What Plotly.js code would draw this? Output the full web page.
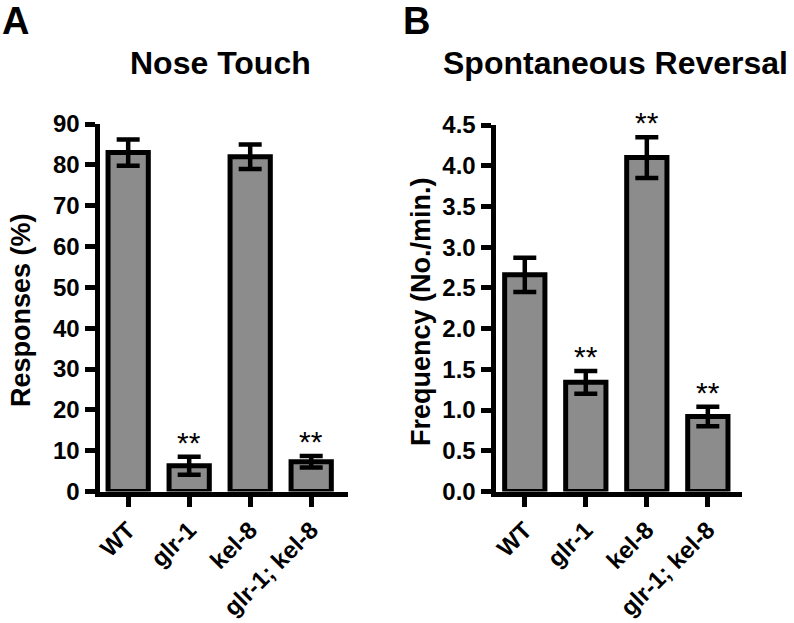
<!DOCTYPE html>
<html>
<head>
<meta charset="utf-8">
<script src="https://cdn.plot.ly/plotly-3.0.1.min.js"></script>
<style>html,body{margin:0;padding:0;background:#fff}#chart{width:794px;height:623px}</style>
</head>
<body>
<div id="chart"></div>
<script>
// ---- data ----
var categories = ["WT", "glr-1", "kel-8", "glr-1; kel-8"];
var noseTouch = [83, 6.3, 82, 7.3];
var noseTouchErr = [3.2, 2.2, 3.0, 1.4];
var noseStars = ["", "**", "", "**"];
var reversal = [2.66, 1.34, 4.1, 0.92];
var reversalErr = [0.21, 0.14, 0.25, 0.12];
var reversalStars = ["", "**", "**", "**"];
var yTicksA = [0, 10, 20, 30, 40, 50, 60, 70, 80, 90];
var yTicksB = [0, 0.5, 1, 1.5, 2, 2.5, 3, 3.5, 4, 4.5];

var W = 794, H = 623;
function fx(p){ return p / W; }
function fy(p){ return 1 - p / H; }
var FONT = "Arial, 'Liberation Sans', sans-serif";
var BAR = "#8c8c8c";

function barTrace(y, e, xa, ya){
  return {
    type: "bar", x: categories, y: y, xaxis: xa, yaxis: ya,
    width: 0.66,
    marker: {color: BAR, line: {color: "#000", width: 5}},
    error_y: {type: "data", array: e, visible: true, color: "#000", thickness: 4.5, width: 11.5},
    hoverinfo: "none", showlegend: false
  };
}

var data = [
  barTrace(noseTouch, noseTouchErr, "x", "y"),
  barTrace(reversal, reversalErr, "x2", "y2")
];

function xAxis(domain, range, anchor){
  return {
    domain: domain, range: range, anchor: anchor, type: "category",
    showline: true, linecolor: "#000", linewidth: 5,
    ticks: "outside", ticklen: 10, tickwidth: 5, tickcolor: "#000",
    tickangle: -45, showgrid: false, zeroline: false,
    tickfont: {family: FONT, size: 24, color: "#000", weight: "bold"},
    fixedrange: true
  };
}
function yAxis(domain, range, anchor, ticks, fmt){
  return {
    domain: domain, range: range, anchor: anchor,
    tickmode: "array", tickvals: ticks, tickformat: fmt,
    showline: true, linecolor: "#000", linewidth: 5,
    ticks: "outside", ticklen: 10, tickwidth: 5, tickcolor: "#000",
    showgrid: false, zeroline: false,
    tickfont: {family: FONT, size: 24, color: "#000", weight: "bold"},
    fixedrange: true
  };
}

var annotations = [];
function addStars(stars, vals, errs, xref, yref){
  for (var i = 0; i < categories.length; i++){
    if (!stars[i]) continue;
    annotations.push({
      xref: xref, yref: yref, x: categories[i], y: vals[i] + errs[i],
      text: stars[i], showarrow: false, yanchor: "bottom", yshift: -4,
      font: {family: FONT, size: 30, color: "#000"}
    });
  }
}
addStars(noseStars, noseTouch, noseTouchErr, "x", "y");
addStars(reversalStars, reversal, reversalErr, "x2", "y2");

function paperText(text, x, y, size, opts){
  var a = {xref: "paper", yref: "paper", x: fx(x), y: fy(y), text: text, showarrow: false,
    xanchor: "center", yanchor: "middle",
    font: {family: FONT, size: size, color: "#000", weight: "bold"}};
  for (var k in (opts || {})) a[k] = opts[k];
  return a;
}
annotations.push(paperText("A", 0, 21, 38, {xanchor: "left"}));
annotations.push(paperText("B", 401, 21, 38, {xanchor: "left"}));
annotations.push(paperText("Nose Touch", 220, 63, 32));
annotations.push(paperText("Spontaneous Reversal", 615, 63, 32));
annotations.push(paperText("Responses (%)", 21, 310, 27, {textangle: -90}));
annotations.push(paperText("Frequency (No./min.)", 421, 311, 27, {textangle: -90}));

var layout = {
  width: W, height: H,
  margin: {l: 0, r: 0, t: 0, b: 0},
  paper_bgcolor: "#fff", plot_bgcolor: "#fff",
  xaxis: xAxis([fx(99.5), fx(347.8)], [-0.47, 3.6], "y"),
  yaxis: yAxis([fy(491.5), fy(124)], [0, 90], "x", yTicksA, "d"),
  xaxis2: xAxis([fx(495.5), fx(742)], [-0.48, 3.56], "y2"),
  yaxis2: yAxis([fy(491.5), fy(125)], [0, 4.5], "x2", yTicksB, ".1f"),
  annotations: annotations,
  showlegend: false
};

Plotly.newPlot("chart", data, layout, {displayModeBar: false, staticPlot: true});
</script>
</body>
</html>
